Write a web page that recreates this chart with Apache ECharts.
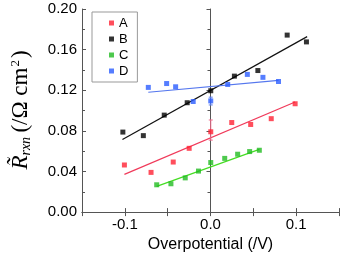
<!DOCTYPE html>
<html><head><meta charset="utf-8">
<script src="https://cdn.jsdelivr.net/npm/echarts@6/dist/echarts.min.js"></script>
<style>html,body{margin:0;padding:0;background:#fff}#c{width:342px;height:258px}</style>
</head><body><div id="c"></div>
<script>
var seriesNames = ['A', 'B', 'C', 'D'];
var colors = ['#ff2233', '#000000', '#22bb22', '#2a5cff'];
var lineColors = ['#f03a5a', '#111111', '#44dd22', '#5577ee'];
var dataA = [[-0.1005,0.0464],[-0.0694,0.0391],[-0.0435,0.0493],[-0.0249,0.0628],[0.0003,0.0791],[0.0248,0.0882],[0.0469,0.0863],[0.0709,0.0920],[0.0988,0.1067]];
var dataB = [[-0.1023,0.0788],[-0.0784,0.0753],[-0.054,0.0955],[-0.0272,0.1077],[0.0003,0.1195],[0.0279,0.1339],[0.0553,0.1394],[0.0895,0.1743],[0.112,0.1676]];
var dataC = [[-0.0628,0.0269],[-0.0462,0.0279],[-0.0295,0.0337],[-0.014,0.0404],[0.0003,0.0488],[0.0166,0.0529],[0.0317,0.0570],[0.0457,0.0596],[0.057,0.0609]];
var dataD = [[-0.0726,0.1228],[-0.0512,0.1266],[-0.0407,0.1234],[-0.0202,0.1089],[0.0003,0.1095],[0.0201,0.1257],[0.043,0.1356],[0.0612,0.1327],[0.0794,0.1286]];
var fitA = [[-0.1005,0.0372],[0.0988,0.1084]];
var fitB = [[-0.1028,0.0714],[0.1128,0.1728]];
var fitC = [[-0.0628,0.0253],[0.057,0.0618]];
var fitD = [[-0.0726,0.1180],[0.0794,0.1298]];
var errA = [[0.0003,0.0709,0.0907]];
var errD = [[0.0003,0.1055,0.1132]];
var errColors = ['#f06a8a', '#5f80ee'];
var xTicks = [-0.1, 0.0, 0.1];

var chart = echarts.init(document.getElementById('c'));
var allData = [dataA, dataB, dataC, dataD];
var fits = [fitA, fitB, fitC, fitD];
var series = [];
fits.forEach(function(f, i){
  series.push({type:'line', data:f, symbol:'none', silent:true, z:2,
    lineStyle:{color:lineColors[i], width:1.2}, itemStyle:{color:lineColors[i]}});
});
[errA, errD].forEach(function(e, k){
  series.push({type:'custom', z:3, silent:true, data:e,
    renderItem:function(params, api){
      var top = api.coord([api.value(0), api.value(2)]);
      var bot = api.coord([api.value(0), api.value(1)]);
      var w = 2;
      var st = {stroke:errColors[k], lineWidth:1};
      return {type:'group', children:[
        {type:'line', shape:{x1:top[0],y1:top[1],x2:bot[0],y2:bot[1]}, style:st},
        {type:'line', shape:{x1:top[0]-w,y1:top[1],x2:top[0]+w,y2:top[1]}, style:st},
        {type:'line', shape:{x1:bot[0]-w,y1:bot[1],x2:bot[0]+w,y2:bot[1]}, style:st}
      ]};
    }});
});
allData.forEach(function(d, i){
  series.push({name:seriesNames[i], type:'scatter', data:d, symbol:'rect', symbolSize:5, z:4,
    itemStyle:{color:colors[i]}});
});

var axisLineStyle = {color:'#555', width:1};
var sans = 'Liberation Sans, Arial, sans-serif';
var serif = 'Liberation Serif, Times New Roman, serif';
chart.setOption({
  animation:false,
  grid:{left:82, top:9, right:3, bottom:41, show:false},
  legend:{data:seriesNames, orient:'vertical', left:92, top:12,
    icon:'rect', itemWidth:5, itemHeight:5, itemGap:2, itemTextGap:12,
    padding:[4,9,4,17], borderColor:'#999', borderWidth:1, backgroundColor:'#fff',
    textStyle:{fontFamily:sans, fontSize:13, color:'#000', lineHeight:14}},
  xAxis:[{type:'value', min:-0.15, max:0.15, interval:0.05,
    axisLine:{show:true, onZero:false, lineStyle:axisLineStyle},
    axisTick:{show:true, inside:true, length:4, lineStyle:axisLineStyle},
    splitLine:{show:false},
    axisLabel:{fontFamily:sans, fontSize:15, color:'#000', margin:5,
      formatter:function(v){
        for (var i=0;i<xTicks.length;i++){ if (Math.abs(v-xTicks[i])<1e-6) return xTicks[i].toFixed(1); }
        return '';
      }},
    name:'Overpotential (/V)', nameLocation:'middle', nameGap:23,
    nameTextStyle:{fontFamily:sans, fontSize:16, color:'#000'}},
   {type:'value', position:'top', min:-0.15, max:0.15, interval:0.05,
    axisLine:{show:true, lineStyle:axisLineStyle},
    axisTick:{show:true, inside:true, length:4, lineStyle:axisLineStyle},
    axisLabel:{show:false}, splitLine:{show:false}}],
  yAxis:[{type:'value', min:0, max:0.2, interval:0.04,
    axisLine:{show:true, onZero:false, lineStyle:axisLineStyle},
    axisTick:{show:true, inside:true, length:4, lineStyle:axisLineStyle},
    minorTick:{show:true, splitNumber:2, length:3, lineStyle:axisLineStyle},
    splitLine:{show:false},
    axisLabel:{fontFamily:sans, fontSize:15, color:'#000', margin:5,
      formatter:function(v){return v.toFixed(2);}}},
   {type:'value', position:'right', min:0, max:0.2, interval:0.04,
    axisLine:{show:true, lineStyle:axisLineStyle},
    axisTick:{show:true, inside:true, length:4, lineStyle:axisLineStyle},
    minorTick:{show:true, splitNumber:2, length:3, lineStyle:axisLineStyle},
    axisLabel:{show:false}, splitLine:{show:false}}],
  graphic:[{type:'text', x:21, y:110, rotation:Math.PI/2,
    style:{text:'{r|R\u0303}{s|rxn} {p|(/\u03A9 cm}{sup|2}{p|)}', align:'center', verticalAlign:'middle',
      rich:{
        r:{fontFamily:serif, fontStyle:'italic', fontSize:23, fill:'#000'},
        s:{fontFamily:serif, fontStyle:'italic', fontSize:14, fill:'#000', verticalAlign:'bottom', padding:[9,1,0,0]},
        p:{fontFamily:serif, fontSize:23, fill:'#000'},
        sup:{fontFamily:serif, fontSize:13, fill:'#000', verticalAlign:'top', padding:[0,2,11,1]}
      }}}],
  series:series
});
</script></body></html>
